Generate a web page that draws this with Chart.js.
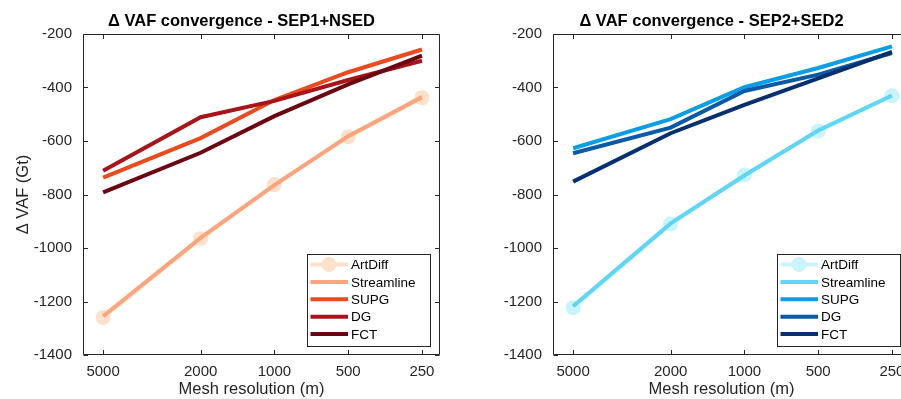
<!DOCTYPE html>
<html>
<head>
<meta charset="utf-8">
<script src="https://cdn.jsdelivr.net/npm/chart.js@4"></script>
<style>
html,body{margin:0;padding:0;width:901px;height:399px;overflow:hidden;background:#fff;}
.wrap{position:absolute;top:0;height:399px;}
</style>
</head>
<body>
<div class="wrap" id="w1" style="left:0;width:460px;"><canvas id="c1" width="460" height="399"></canvas></div>
<div class="wrap" id="w2" style="left:450px;width:480px;"><canvas id="c2" width="480" height="399"></canvas></div>
<script>
// ---- data ----
const meshRes = [5000, 2000, 1000, 500, 250];
const seriesNames = ['ArtDiff', 'Streamline', 'SUPG', 'DG', 'FCT'];
const yTicks = [-1400, -1200, -1000, -800, -600, -400, -200];

// Panel 1: SEP1+NSED
const p1ArtDiff    = [-1260, -965, -763, -584, -438];
const p1Streamline = [-1255, -962, -765, -582, -436];
const p1SUPG       = [-737, -589, -447, -343, -258];
const p1DG         = [-711, -511, -450, -372, -300];
const p1FCT        = [-792, -644, -507, -388, -281];

// Panel 2: SEP2+SED2
const p2ArtDiff    = [-1223, -910, -727, -563, -431];
const p2Streamline = [-1218, -908, -729, -561, -430];
const p2SUPG       = [-627, -518, -399, -327, -246];
const p2DG         = [-646, -550, -413, -352, -271];
const p2FCT        = [-752, -571, -465, -366, -267];

const redColors  = ['#fde1ca', '#fca47c', '#ea4a1e', '#a8141a', '#6b0512'];
const blueColors = ['#c8f4fc', '#5fd5f8', '#0a9ee6', '#0a5aa8', '#082f6e'];

const FONT = '"Liberation Sans", Arial, Helvetica, sans-serif';
const AX = '#262626';

function makeDatasets(arrs, colors) {
  return arrs.map((vals, i) => ({
    label: seriesNames[i],
    data: meshRes.map((x, j) => ({x: x, y: vals[j]})),
    borderColor: colors[i],
    backgroundColor: colors[i],
    borderWidth: 4,
    pointRadius: i === 0 ? 7.5 : 0,
    pointHoverRadius: i === 0 ? 7.5 : 0,
    pointBorderWidth: 0,
    pointBackgroundColor: colors[i],
    tension: 0,
    order: 5 - i
  }));
}

function decorPlugin(opts) {
  return {
    id: 'decor',
    afterDraw(chart) {
      const ctx = chart.ctx;
      const a = chart.chartArea;
      const xs = chart.scales.x, ys = chart.scales.y;
      ctx.save();
      // frame
      ctx.strokeStyle = AX;
      ctx.lineWidth = 1;
      const L = Math.round(a.left) + 0.5, R = Math.round(a.right) - 0.5;
      const T = Math.round(a.top) + 0.5, B = Math.round(a.bottom) - 0.5;
      ctx.beginPath();
      ctx.rect(L, T, R - L, B - T);
      ctx.stroke();
      // inward ticks
      const tl = 4.5;
      ctx.beginPath();
      xs.ticks.forEach(t => {
        const px = Math.round(xs.getPixelForValue(t.value)) + 0.5;
        ctx.moveTo(px, B); ctx.lineTo(px, B - tl);
        ctx.moveTo(px, T); ctx.lineTo(px, T + tl);
      });
      ys.ticks.forEach(t => {
        const py = Math.round(ys.getPixelForValue(t.value)) + 0.5;
        ctx.moveTo(L, py); ctx.lineTo(L + tl, py);
        ctx.moveTo(R, py); ctx.lineTo(R - tl, py);
      });
      ctx.stroke();
      // title
      ctx.fillStyle = '#000';
      ctx.font = 'bold 16.5px ' + FONT;
      ctx.textAlign = 'center';
      ctx.textBaseline = 'alphabetic';
      ctx.fillText(opts.title, (a.left + a.right) / 2 - 20, 26);
      // x label
      ctx.fillStyle = AX;
      ctx.font = '16.5px ' + FONT;
      ctx.fillText('Mesh resolution (m)', (a.left + a.right) / 2 - 10, 394);
      // y label
      if (opts.ylabel) {
        ctx.save();
        ctx.translate(28, (a.top + a.bottom) / 2);
        ctx.rotate(-Math.PI / 2);
        ctx.fillText(opts.ylabel, 0, 0);
        ctx.restore();
      }
      // legend
      const lx = a.right - 10 - 123, ly = 254, lw = 123, lh = 92;
      ctx.fillStyle = '#fff';
      ctx.fillRect(lx, ly, lw, lh);
      ctx.strokeStyle = AX;
      ctx.lineWidth = 1;
      ctx.strokeRect(Math.round(lx) + 0.5, ly + 0.5, lw, lh);
      ctx.font = '13.5px ' + FONT;
      ctx.textAlign = 'left';
      ctx.textBaseline = 'middle';
      chart.data.datasets.forEach((ds, i) => {
        const y = ly + 10.5 + i * 17.4;
        ctx.strokeStyle = ds.borderColor;
        ctx.lineWidth = 4;
        ctx.beginPath();
        ctx.moveTo(lx + 3.5, y); ctx.lineTo(lx + 41, y);
        ctx.stroke();
        if (ds.pointRadius > 0) {
          ctx.fillStyle = ds.pointBackgroundColor;
          ctx.beginPath();
          ctx.arc(lx + 22, y, 7.5, 0, Math.PI * 2);
          ctx.fill();
        }
        ctx.fillStyle = '#000';
        ctx.fillText(ds.label, lx + 44, y + 1);
      });
      ctx.restore();
    }
  };
}

function makeChart(id, arrs, colors, yw, padRight, title, ylabel) {
  return new Chart(document.getElementById(id), {
    type: 'line',
    data: { datasets: makeDatasets(arrs, colors) },
    options: {
      responsive: false,
      animation: false,
      devicePixelRatio: 1,
      layout: { padding: { left: 0, right: padRight, top: 34, bottom: 0 } },
      plugins: { legend: { display: false }, title: { display: false }, tooltip: { enabled: false } },
      events: [],
      scales: {
        x: {
          type: 'logarithmic',
          reverse: true,
          min: 211,
          max: 6040,
          bounds: 'data',
          grid: { display: false, drawTicks: false },
          border: { display: false },
          afterBuildTicks: (s) => { s.ticks = meshRes.map(v => ({ value: v })); },
          afterFit: (s) => { s.height = 44; },
          ticks: {
            autoSkip: false, maxRotation: 0, padding: 8,
            color: AX, font: { family: FONT, size: 15 },
            callback: (v) => String(v)
          }
        },
        y: {
          type: 'linear',
          min: -1400,
          max: -200,
          grid: { display: false, drawTicks: false },
          border: { display: false },
          afterBuildTicks: (s) => { s.ticks = yTicks.map(v => ({ value: v })); },
          afterFit: (s) => { s.width = yw; },
          ticks: {
            padding: 11,
            color: AX, font: { family: FONT, size: 15 },
            callback: (v) => String(v)
          }
        }
      }
    },
    plugins: [decorPlugin({ title: title, ylabel: ylabel })]
  });
}

makeChart('c1', [p1ArtDiff, p1Streamline, p1SUPG, p1DG, p1FCT], redColors, 83, 20,
  '\u0394 VAF convergence - SEP1+NSED', '\u0394 VAF (Gt)');
makeChart('c2', [p2ArtDiff, p2Streamline, p2SUPG, p2DG, p2FCT], blueColors, 103, 20,
  '\u0394 VAF convergence - SEP2+SED2', null);
</script>
</body>
</html>
